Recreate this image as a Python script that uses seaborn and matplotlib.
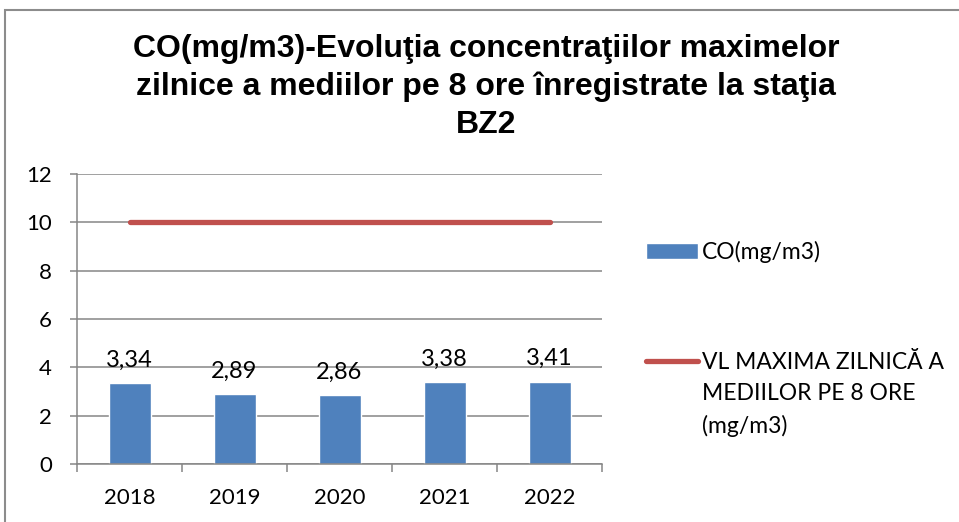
import matplotlib
matplotlib.use("Agg")
import matplotlib.pyplot as plt
import seaborn as sns
import numpy as np
import pandas as pd
from matplotlib.patches import Rectangle
from matplotlib.text import Annotation

# data
years = ["2018", "2019", "2020", "2021", "2022"]
co_values = [3.34, 2.89, 2.86, 3.38, 3.41]
limit_values = [10, 10, 10, 10, 10]
title = ("CO(mg/m3)-Evoluţia concentraţiilor maximelor\n"
         "zilnice a mediilor pe 8 ore înregistrate la staţia\nBZ2")
bar_label = "CO(mg/m3)"
line_label_first = "VL MAXIMA ZILNICĂ A"
line_label_rest = "MEDIILOR PE 8 ORE\n(mg/m3)"

sns.set_style("white")
plt.rcParams["font.family"] = ["Lato", "DejaVu Sans"]
plt.rcParams["text.color"] = "black"
plt.rcParams["xtick.labelcolor"] = "black"
plt.rcParams["ytick.labelcolor"] = "black"

W, H = 959, 522
fig = plt.figure(figsize=(W / 100, H / 100), dpi=100)
ax = fig.add_axes([77 / W, (H - 464) / H, (602 - 77) / W, (464 - 174) / H])

df = pd.DataFrame({"year": years, "co": co_values})
sns.barplot(data=df, x="year", y="co", color="#4F81BD", width=0.4,
            saturation=1, ax=ax, label=bar_label)
sns.lineplot(x=np.arange(len(years)), y=limit_values, color="#C0504D",
             linewidth=3.8, ax=ax, label=line_label_first,
             solid_capstyle="round")

ax.bar_label(ax.containers[0],
             labels=[f"{v:.2f}".replace(".", ",") for v in co_values],
             padding=9, fontsize=17, color="black")

ax.set_ylim(0, 12)
ax.set_yticks(range(0, 13, 2))
ax.set_xlim(-0.5, len(years) - 0.5)
ax.set_xlabel("")
ax.set_ylabel("")
ax.yaxis.grid(True, color="#868686", linewidth=1.1)
ax.set_axisbelow(True)
for side in ["top", "right"]:
    ax.spines[side].set_visible(False)
for side in ["left", "bottom"]:
    ax.spines[side].set_color("#868686")
    ax.spines[side].set_linewidth(1.1)
ax.tick_params(axis="y", length=5, width=1.1, color="#868686",
               labelsize=16, pad=13, left=True, labelcolor="black")
ax.tick_params(axis="x", which="major", length=0, labelsize=16, pad=17,
               labelcolor="black")
ax.set_xticks(np.arange(-0.5, len(years), 1), minor=True)
ax.tick_params(axis="x", which="minor", length=6, width=1.1,
               color="#868686", bottom=True)

fig.suptitle(title, x=486 / W, y=1 - 34 / H, fontsize=23, color="black",
             fontweight="bold", family="Liberation Sans", linespacing=1.33)

# legend: bar first, then the limit line
handles, labels = ax.get_legend_handles_labels()
order = [labels.index(bar_label), labels.index(line_label_first)]
if ax.get_legend() is not None:
    ax.get_legend().remove()
leg = fig.legend([handles[i] for i in order], [labels[i] for i in order],
                 loc="upper left", bbox_to_anchor=(625 / W, 1 - 220 / H),
                 frameon=False, fontsize=16.5, handlelength=2.3,
                 handletextpad=0.15, labelspacing=3.9, labelcolor="black")
rest = Annotation(line_label_rest, xy=(0, 0), xycoords=leg.get_texts()[1],
                  xytext=(0, -7), textcoords="offset points",
                  va="top", ha="left", fontsize=16.5, linespacing=1.6,
                  color="black", zorder=10)
fig.add_artist(rest)

fig.patches.append(Rectangle((5 / W, -0.1), 1.2, 1 - 10 / H + 0.1,
                             transform=fig.transFigure, fill=False,
                             edgecolor="#8c8c8c", linewidth=1.5))

fig.savefig("out.png", dpi=100)
